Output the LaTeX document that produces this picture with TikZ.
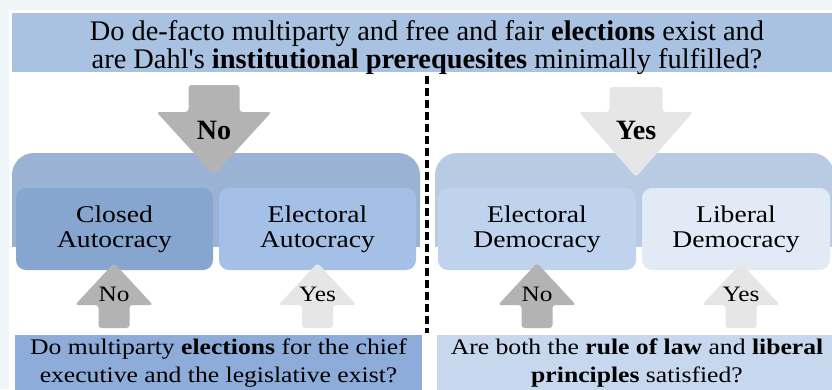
\documentclass[tikz,border=0pt]{standalone}
\usepackage{fontspec}
\setmainfont{Liberation Serif}[Ligatures=TeXOff]
\newfontfamily\wideserif[FakeStretch=1.15]{Liberation Serif}
\begin{document}
\begin{tikzpicture}[x=1pt,y=-1pt]
% palette
\definecolor{pagebg}{HTML}{EEF6F8}
\definecolor{topq}{HTML}{AAC2E2}
\definecolor{autback}{HTML}{9AB3D5}
\definecolor{closedc}{HTML}{86A5CF}
\definecolor{elautc}{HTML}{A5C0E7}
\definecolor{demback}{HTML}{B9CBE3}
\definecolor{eldemc}{HTML}{BFD3EE}
\definecolor{libdemc}{HTML}{E2EAF6}
\definecolor{botqleft}{HTML}{8DACD9}
\definecolor{botqright}{HTML}{C7D7EE}
\definecolor{nogray}{HTML}{B3B3B3}
\definecolor{yesgray}{HTML}{E6E6E6}
\tikzset{
  qtext/.style={inner sep=0pt, align=center, font=\fontsize{28.4}{26}\selectfont},
  catbox/.style={rounded corners=10pt, inner sep=0pt, align=center,
    minimum height=82pt, font=\wideserif\fontsize{24}{25}\selectfont},
  bigans/.style={inner sep=0pt, font=\bfseries\fontsize{28}{28}\selectfont},
  smallans/.style={inner sep=0pt, font=\wideserif\fontsize{22}{22}\selectfont},
  botq/.style={inner sep=0pt, align=center, font=\wideserif\fontsize{22.3}{28}\selectfont},
  blockarrow/.style={rounded corners=3pt},
  divider/.style={line width=3.4pt, dash pattern=on 8pt off 4pt},
}
\useasboundingbox (0,0) rectangle (832,389);
\fill[pagebg] (0,0) rectangle (832,389);
\fill[white] (9,10) rectangle (832,389);

% main question
\fill[topq] (12,13) rectangle (842,72);
\node[qtext] (q0) at (427,47.5) {Do de-facto multiparty and free and fair \textbf{elections} exist and\\are Dahl's \textbf{institutional prerequesites} minimally fulfilled?};

% divider
\coordinate (divtop) at (427,76);
\coordinate (divbot) at (427,333);
\draw[divider] (divtop) -- (divbot);

% backdrops with rounded top corners
\fill[autback, rounded corners=22pt] (12,153) rectangle (420,230);
\fill[autback] (12,200) rectangle (420,247);
\fill[demback, rounded corners=22pt] (435,153) rectangle (834,230);
\fill[demback] (435,200) rectangle (834,247);

% top answer arrows
\fill[nogray, blockarrow] (188.5,85) -- (239.5,85) -- (239.5,112) -- (271.5,112)
  -- (214,175) -- (156.5,112) -- (188.5,112) -- cycle;
\node[bigans] (no0) at (214,130) {No};
\fill[yesgray, blockarrow] (609.5,87) -- (662.5,87) -- (662.5,112) -- (693,112)
  -- (636,177) -- (579,112) -- (609.5,112) -- cycle;
\node[bigans] (yes0) at (636,130) {Yes};

% regime categories
\node[catbox, fill=closedc, minimum width=197pt] (closed) at (114.5,229) {Closed\\Autocracy};
\node[catbox, fill=elautc, minimum width=197pt] (elaut) at (317.5,229) {Electoral\\Autocracy};
\node[catbox, fill=eldemc, minimum width=198pt] (eldem) at (537,229) {Electoral\\Democracy};
\node[catbox, fill=libdemc, minimum width=188pt] (libdem) at (736,229) {Liberal\\Democracy};

% follow-up questions
\node[botq, fill=botqleft, minimum width=407pt, minimum height=56pt] (q1) at (218.5,363) {Do multiparty \textbf{elections} for the chief\\executive and the legislative exist?};
\node[botq, fill=botqright, minimum width=400pt, minimum height=56pt] (q2) at (637,363) {Are both the \textbf{rule of law} and \textbf{liberal}\\\textbf{principles} satisfied?};

% bottom answer arrows
\foreach \cx/\col/\nm/\txt in {114/nogray/no1/No, 317.5/yesgray/yes1/Yes, 537/nogray/no2/No, 741/yesgray/yes2/Yes}{
  \fill[\col, blockarrow] (\cx-15.5,328) -- (\cx-15.5,305) -- (\cx-39,305) -- (\cx,263)
    -- (\cx+39,305) -- (\cx+15.5,305) -- (\cx+15.5,328) -- cycle;
  \node[smallans] (\nm) at (\cx,294.5) {\txt};
}
\end{tikzpicture}
\end{document}
